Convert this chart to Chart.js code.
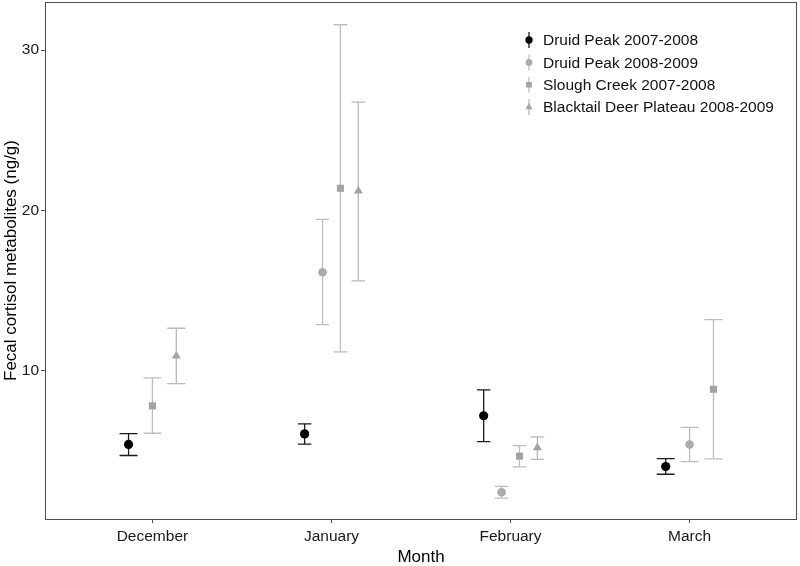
<!DOCTYPE html>
<html lang="en">

<head>
    <meta charset="UTF-8">
    <title>Fecal cortisol metabolites by month</title>
    <script src="https://cdn.jsdelivr.net/npm/chart.js"></script>
    <style>
        body { margin: 0; background: #fff; }
    </style>
</head>

<body>
    <canvas id="cortisolChart" width="800" height="566"></canvas>

    <script>
        // Months on the x axis
        const months = ['December', 'January', 'February', 'March'];
        const yTicks = [10, 20, 30];

        // Mean and error bar ends per month, null where there was no sample
        const druid0708Mean = [5.40, 6.06, 7.19, 4.02];
        const druid0708Low = [4.71, 5.42, 5.58, 3.54];
        const druid0708High = [6.08, 6.69, 8.81, 4.52];

        const druid0809Mean = [null, 16.14, 2.42, 5.40];
        const druid0809Low = [null, 12.88, 2.05, 4.33];
        const druid0809High = [null, 19.44, 2.78, 6.46];

        const sloughMean = [7.81, 21.38, 4.67, 8.84];
        const sloughLow = [6.10, 11.17, 4.00, 4.50];
        const sloughHigh = [9.55, 31.58, 5.33, 13.19];

        const blacktailMean = [10.92, 21.22, 5.20, null];
        const blacktailLow = [9.20, 15.60, 4.47, null];
        const blacktailHigh = [12.65, 26.75, 5.87, null];

        const series = [
            { label: 'Druid Peak 2007-2008', mean: druid0708Mean, low: druid0708Low, high: druid0708High,
              color: '#000000', barColor: '#1a1a1a', style: 'circle', radius: 4.6 },
            { label: 'Druid Peak 2008-2009', mean: druid0809Mean, low: druid0809Low, high: druid0809High,
              color: '#ababab', barColor: '#bdbdbd', style: 'circle', radius: 4.3 },
            { label: 'Slough Creek 2007-2008', mean: sloughMean, low: sloughLow, high: sloughHigh,
              color: '#a3a3a3', barColor: '#bdbdbd', style: 'rect', radius: 5 },
            { label: 'Blacktail Deer Plateau 2008-2009', mean: blacktailMean, low: blacktailLow, high: blacktailHigh,
              color: '#a3a3a3', barColor: '#b8b8b8', style: 'triangle', radius: 5.2 }
        ];

        // dodge the series that are present in each month (like ggplot position_dodge)
        const dodgeWidth = 0.4;
        const capWidth = 0.3;
        function buildPoints(s) {
            const pts = [];
            months.forEach((m, i) => {
                if (s.mean[i] === null) return;
                const present = series.filter(o => o.mean[i] !== null);
                const n = present.length;
                const k = present.indexOf(s);
                pts.push({
                    x: i + 1 + (k - (n - 1) / 2) * dodgeWidth / n,
                    y: s.mean[i],
                    low: s.low[i],
                    high: s.high[i],
                    cap: capWidth / n / 2
                });
            });
            return pts;
        }

        const errorBars = {
            id: 'errorBars',
            beforeDatasetsDraw(chart) {
                const { ctx, scales: { x, y } } = chart;
                ctx.save();
                chart.data.datasets.forEach(ds => {
                    ctx.strokeStyle = ds.barColor;
                    ctx.lineWidth = 1.3;
                    ds.data.forEach(p => {
                        const px = x.getPixelForValue(p.x);
                        const left = x.getPixelForValue(p.x - p.cap);
                        const right = x.getPixelForValue(p.x + p.cap);
                        const yl = y.getPixelForValue(p.low);
                        const yh = y.getPixelForValue(p.high);
                        ctx.beginPath();
                        ctx.moveTo(px, yl); ctx.lineTo(px, yh);
                        ctx.moveTo(left, yl); ctx.lineTo(right, yl);
                        ctx.moveTo(left, yh); ctx.lineTo(right, yh);
                        ctx.stroke();
                    });
                });
                ctx.restore();
            }
        };

        // panel box and the legend inside the panel
        const panelAndLegend = {
            id: 'panelAndLegend',
            afterDraw(chart) {
                const { ctx, chartArea: a } = chart;
                ctx.save();
                ctx.strokeStyle = '#4d4d4d';
                ctx.lineWidth = 1;
                ctx.strokeRect(a.left + 0.5, a.top + 0.5, a.right - a.left - 1, a.bottom - a.top);

                const x0 = 529;
                series.forEach((s, i) => {
                    const yy = 40 + i * 22.4;
                    ctx.strokeStyle = s.barColor;
                    ctx.lineWidth = 1.3;
                    ctx.beginPath();
                    ctx.moveTo(x0, yy - 8);
                    ctx.lineTo(x0, yy + 8);
                    ctx.stroke();
                    ctx.fillStyle = s.color;
                    ctx.strokeStyle = s.color;
                    Chart.helpers.drawPoint(ctx, { pointStyle: s.style, radius: s.radius * 0.8, rotation: 0, borderWidth: 0 }, x0, yy);
                    ctx.fillStyle = '#111';
                    ctx.font = '15.5px "Liberation Sans", Arial, sans-serif';
                    ctx.textBaseline = 'middle';
                    ctx.textAlign = 'left';
                    ctx.fillText(s.label, 543, yy + 1);
                });
                ctx.restore();
            }
        };

        const tickFont = { family: '"Liberation Sans", Arial, sans-serif', size: 15.5 };
        const xTitleFont = { family: '"Liberation Sans", Arial, sans-serif', size: 17, lineHeight: 1 };
        const yTitleFont = { family: '"Liberation Sans", Arial, sans-serif', size: 17, lineHeight: 1.2 };

        new Chart(document.getElementById('cortisolChart'), {
            type: 'scatter',
            data: {
                datasets: series.map(s => ({
                    label: s.label,
                    data: buildPoints(s),
                    pointStyle: s.style,
                    pointRadius: s.radius,
                    backgroundColor: s.color,
                    borderColor: s.color,
                    borderWidth: 0,
                    barColor: s.barColor
                }))
            },
            options: {
                responsive: false,
                animation: false,
                events: [],
                layout: { autoPadding: false, padding: { top: 2, right: 3 } },
                plugins: {
                    legend: { display: false },
                    tooltip: { enabled: false }
                },
                scales: {
                    x: {
                        type: 'linear',
                        min: 0.4,
                        max: 4.6,
                        afterBuildTicks: scale => { scale.ticks = months.map((m, i) => ({ value: i + 1 })); },
                        afterFit: scale => { scale.height = 47; scale.paddingLeft = 0; scale.paddingRight = 0; },
                        ticks: {
                            callback: v => months[v - 1],
                            color: '#1a1a1a',
                            font: tickFont,
                            padding: 4,
                            maxRotation: 0
                        },
                        grid: { drawOnChartArea: false, drawTicks: true, tickLength: 4, color: '#4d4d4d' },
                        border: { display: false },
                        title: { display: true, text: 'Month', color: '#000', font: xTitleFont, padding: { top: 0, bottom: 0 } }
                    },
                    y: {
                        min: 0.75,
                        max: 33.0,
                        afterBuildTicks: scale => { scale.ticks = yTicks.map(v => ({ value: v })); },
                        afterFit: scale => { scale.width = 45; scale.paddingTop = 0; scale.paddingBottom = 0; },
                        ticks: { color: '#1a1a1a', font: tickFont, padding: 2 },
                        grid: { drawOnChartArea: false, drawTicks: true, tickLength: 4, color: '#4d4d4d' },
                        border: { display: false },
                        title: { display: true, text: 'Fecal cortisol metabolites (ng/g)', color: '#000', font: yTitleFont, padding: { top: 1, bottom: 0 } }
                    }
                }
            },
            plugins: [errorBars, panelAndLegend]
        });
    </script>
</body>

</html>
